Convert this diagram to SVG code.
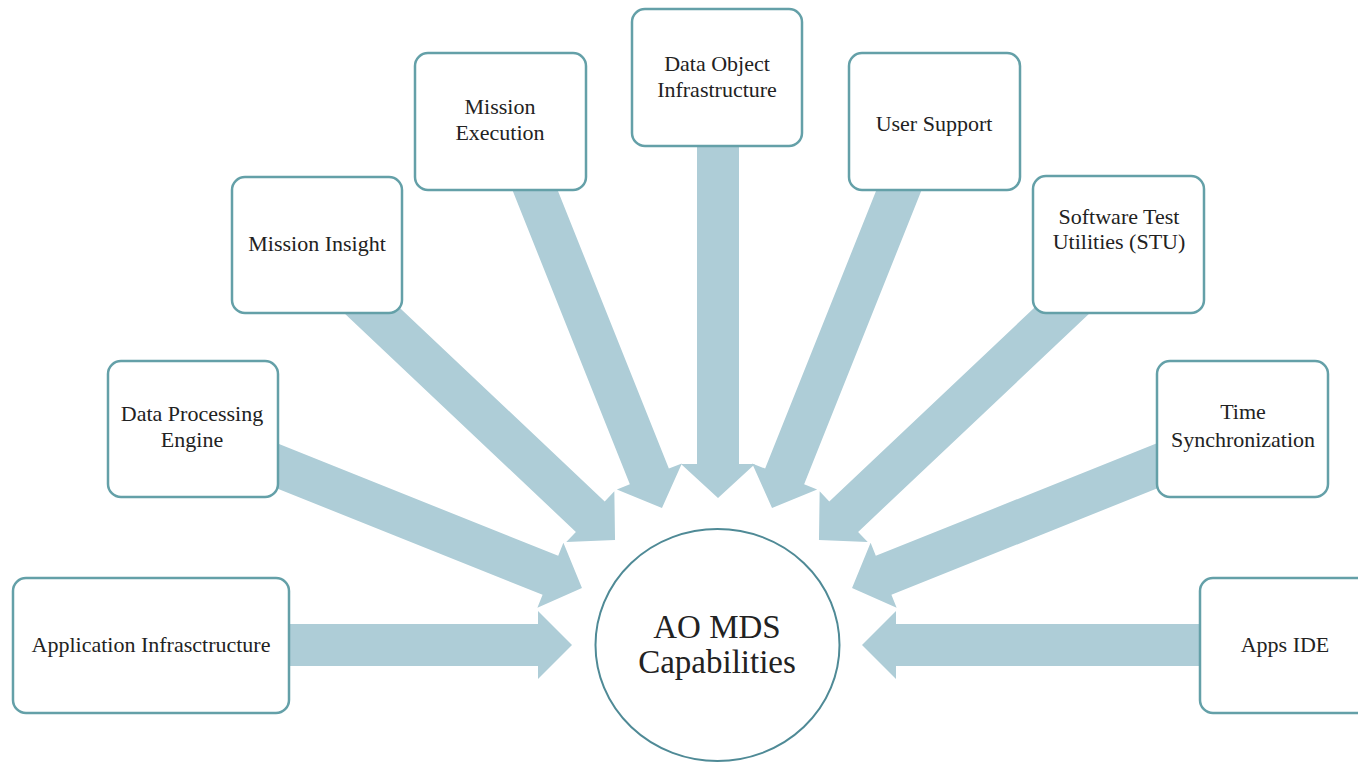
<svg xmlns="http://www.w3.org/2000/svg" width="1358" height="766" viewBox="0 0 1358 766">
<style>
.box{fill:#fff;stroke:#64a0a8;stroke-width:2.5}
.lbl{font-family:'Liberation Serif','DejaVu Serif',serif;font-size:22px;fill:#222;text-anchor:middle}
.big{font-family:'Liberation Serif','DejaVu Serif',serif;font-size:33px;fill:#222;text-anchor:middle}
.arr{fill:#aecdd7}
</style>
<rect width="1358" height="766" fill="#fff"/>
<g id="connectors">
<path class="arr" transform="translate(289,645)" d="M0,-21 H249 V-34 L283,0 L249,34 V21 H0 Z"/>
<path class="arr" transform="translate(250,455) rotate(21.83)" d="M0,-21 H323.6 V-35 L357.6,0 L323.6,35 V21 H0 Z"/>
<path class="arr" transform="translate(345,285) rotate(43.36)" d="M0,-21 H337.4 V-35 L371.4,0 L337.4,35 V21 H0 Z"/>
<path class="arr" transform="translate(523,160) rotate(68.23)" d="M0,-21 H340.7 V-35 L374.7,0 L340.7,35 V21 H0 Z"/>
<path class="arr" transform="translate(718,120) rotate(90)" d="M0,-21 H344 V-37 L378,0 L344,37 V21 H0 Z"/>
<path class="arr" transform="translate(911,160) rotate(111.77)" d="M0,-21 H340.7 V-35 L374.7,0 L340.7,35 V21 H0 Z"/>
<path class="arr" transform="translate(1089,285) rotate(136.64)" d="M0,-21 H337.4 V-35 L371.4,0 L337.4,35 V21 H0 Z"/>
<path class="arr" transform="translate(1184,455) rotate(158.17)" d="M0,-21 H323.6 V-35 L357.6,0 L323.6,35 V21 H0 Z"/>
<path class="arr" transform="translate(1230,645) rotate(180)" d="M0,-21 H334 V-34 L368,0 L334,34 V21 H0 Z"/>
</g>
<g id="center">
<ellipse cx="717.5" cy="645" rx="122" ry="116" fill="#fff" stroke="#4f8a96" stroke-width="2"/>
<text class="big" x="717" y="638">AO MDS</text>
<text class="big" x="717" y="673">Capabilities</text>
</g>
<g id="app-infra">
<rect class="box" x="13" y="578" width="276" height="135" rx="13"/>
<text class="lbl" x="151" y="652">Application Infrasctructure</text>
</g>
<g id="data-processing">
<rect class="box" x="108" y="361" width="170" height="136" rx="13"/>
<text class="lbl" x="192" y="421">Data Processing</text>
<text class="lbl" x="192" y="447">Engine</text>
</g>
<g id="mission-insight">
<rect class="box" x="232" y="177" width="170" height="136" rx="13"/>
<text class="lbl" x="317" y="251">Mission Insight</text>
</g>
<g id="mission-execution">
<rect class="box" x="415" y="53" width="171" height="137" rx="13"/>
<text class="lbl" x="500" y="114">Mission</text>
<text class="lbl" x="500" y="140">Execution</text>
</g>
<g id="data-object">
<rect class="box" x="632" y="9" width="170" height="137" rx="13"/>
<text class="lbl" x="717" y="71">Data Object</text>
<text class="lbl" x="717" y="97">Infrastructure</text>
</g>
<g id="user-support">
<rect class="box" x="849" y="53" width="171" height="137" rx="13"/>
<text class="lbl" x="934" y="131">User Support</text>
</g>
<g id="stu">
<rect class="box" x="1033" y="176" width="171" height="137" rx="13"/>
<text class="lbl" x="1119" y="224">Software Test</text>
<text class="lbl" x="1119" y="249">Utilities (STU)</text>
</g>
<g id="time-sync">
<rect class="box" x="1157" y="361" width="171" height="136" rx="13"/>
<text class="lbl" x="1243" y="419">Time</text>
<text class="lbl" x="1243" y="447">Synchronization</text>
</g>
<g id="apps-ide">
<rect class="box" x="1200" y="578" width="170" height="135" rx="13"/>
<text class="lbl" x="1285" y="652">Apps IDE</text>
</g>
</svg>
